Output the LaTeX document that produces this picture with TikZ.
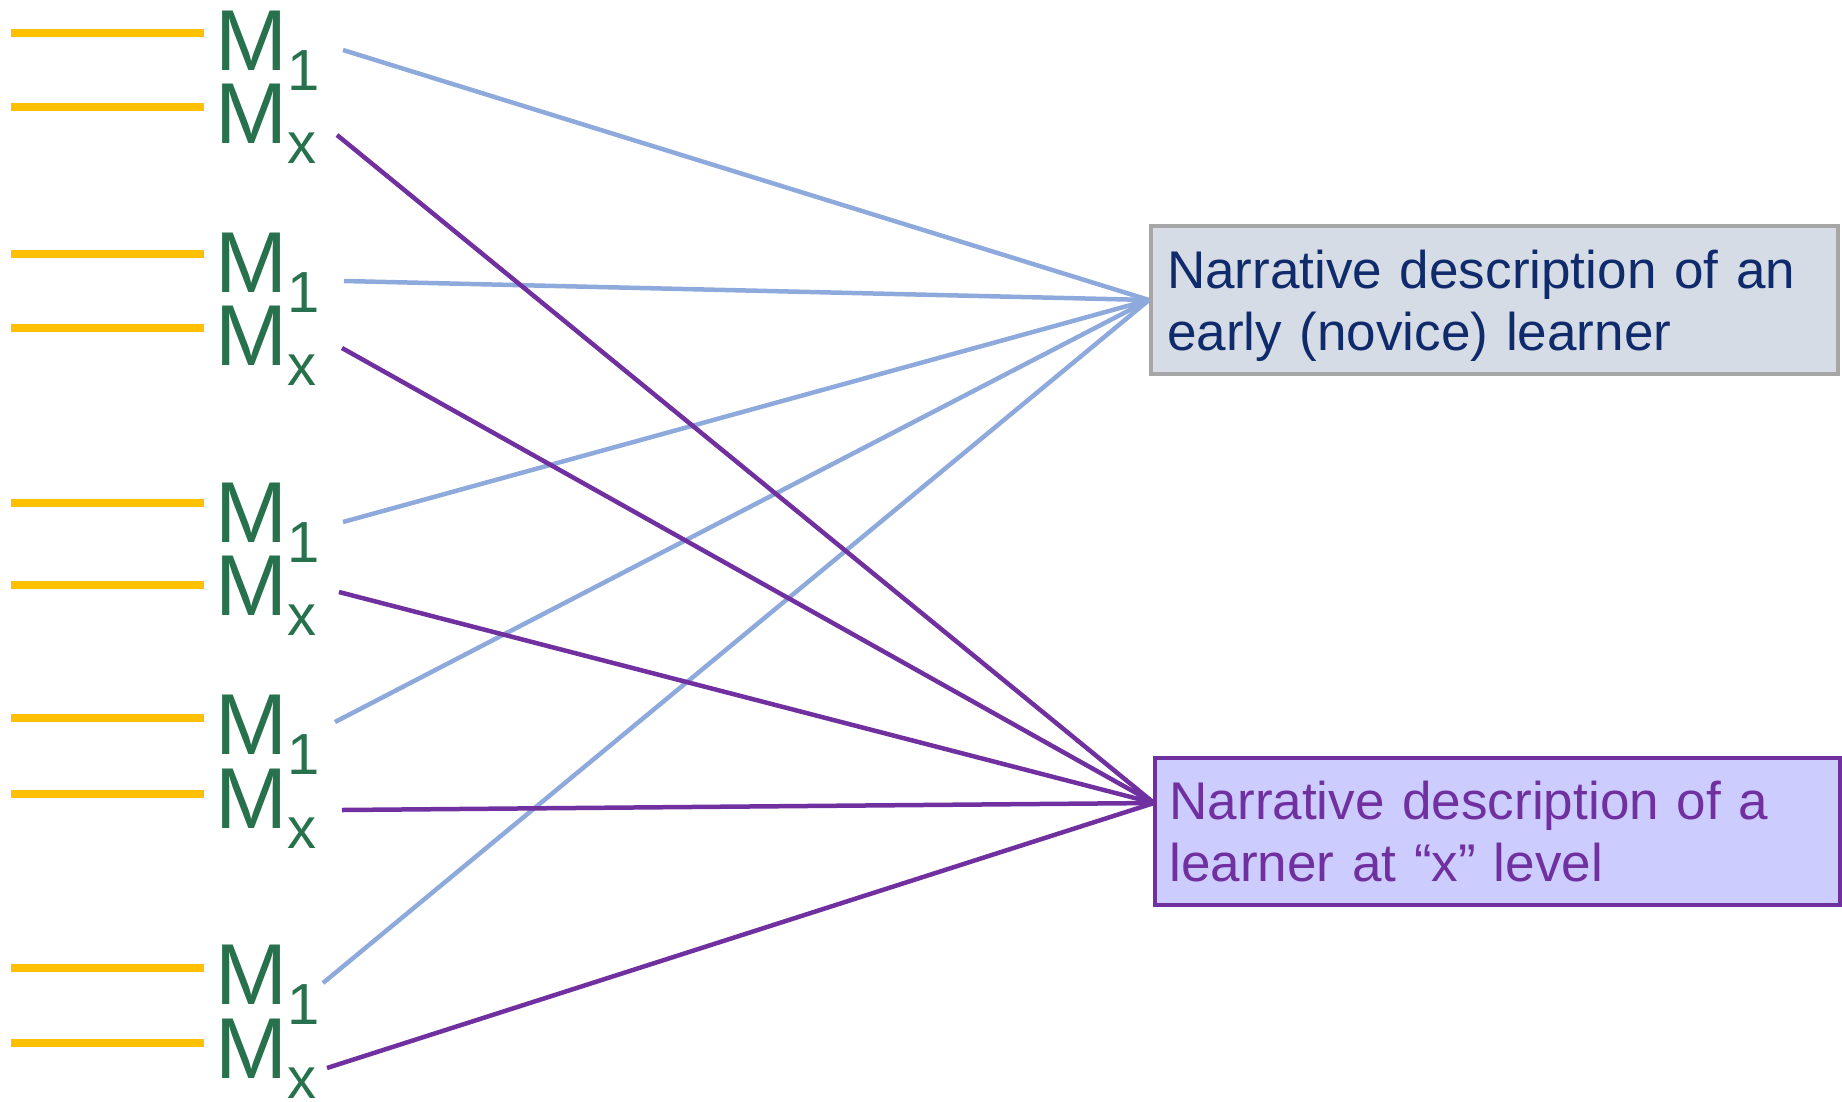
\documentclass[tikz,border=0pt]{standalone}
\usepackage{fontspec}
\setmainfont{Liberation Sans}
\usetikzlibrary{positioning, backgrounds}

\definecolor{mgreen}{HTML}{27714C}
\definecolor{barcol}{HTML}{FFC000}
\definecolor{novblue}{HTML}{8EA9DB}
\definecolor{lvlpurple}{HTML}{7030A0}
\definecolor{navytext}{HTML}{0F2B6B}
\definecolor{novfill}{HTML}{D6DCE5}
\definecolor{novedge}{HTML}{A6A6A6}
\definecolor{lvlfill}{HTML}{CCCCFF}

\begin{document}
\begin{tikzpicture}[x=0.1mm, y=-0.1mm]

\tikzset{
  bar/.style={draw=barcol, line width=0.8mm},
  mlabel/.style={
    anchor=base west, inner sep=0pt, text=mgreen,
    font=\fontsize{24.6}{24.6}\selectfont
  },
  desc/.style={
    rectangle, line width=0.4mm, align=left,
    text width=65.5mm, inner xsep=1.5mm,
    minimum height=14.8mm,
    font=\fontsize{15.1}{17.7}\selectfont
  },
  tonovice/.style={draw=novblue, line width=0.45mm},
  tolevel/.style={draw=lvlpurple, line width=0.45mm}
}

\useasboundingbox (0,0) rectangle (1842,1101);

% =========================================================
% Bars and M labels (five pairs)
% =========================================================
\draw[bar] (11,33) -- (204,33);
\draw[bar] (11,107) -- (204,107);
\node[mlabel] (g1one) at (215,70) {M\raisebox{-2mm}{\fontsize{16.5}{16.5}\selectfont 1}};
\node[mlabel] (g1x) at (215,143) {M\raisebox{-2mm}{\fontsize{16.5}{16.5}\selectfont x}};

\draw[bar] (11,254) -- (204,254);
\draw[bar] (11,328) -- (204,328);
\node[mlabel] (g2one) at (215,292) {M\raisebox{-2mm}{\fontsize{16.5}{16.5}\selectfont 1}};
\node[mlabel] (g2x) at (215,365) {M\raisebox{-2mm}{\fontsize{16.5}{16.5}\selectfont x}};

\draw[bar] (11,503) -- (204,503);
\draw[bar] (11,585) -- (204,585);
\node[mlabel] (g3one) at (215,542) {M\raisebox{-2mm}{\fontsize{16.5}{16.5}\selectfont 1}};
\node[mlabel] (g3x) at (215,615) {M\raisebox{-2mm}{\fontsize{16.5}{16.5}\selectfont x}};

\draw[bar] (11,718) -- (204,718);
\draw[bar] (11,794) -- (204,794);
\node[mlabel] (g4one) at (215,754) {M\raisebox{-2mm}{\fontsize{16.5}{16.5}\selectfont 1}};
\node[mlabel] (g4x) at (215,828) {M\raisebox{-2mm}{\fontsize{16.5}{16.5}\selectfont x}};

\draw[bar] (11,968) -- (204,968);
\draw[bar] (11,1043) -- (204,1043);
\node[mlabel] (g5one) at (215,1004) {M\raisebox{-2mm}{\fontsize{16.5}{16.5}\selectfont 1}};
\node[mlabel] (g5x) at (215,1078) {M\raisebox{-2mm}{\fontsize{16.5}{16.5}\selectfont x}};

% =========================================================
% Description boxes
% =========================================================
\node[desc, draw=novedge, fill=novfill, text=navytext,
      minimum width=68.7mm] (novice) at (1494.5,300)
  {Narrative description of an\\\smash{early (novice) learner}};
\node[desc, draw=lvlpurple, fill=lvlfill, text=lvlpurple,
      minimum width=68.2mm, minimum height=14.7mm] (xlevel) at (1497,831.5)
  {Narrative description of a\\learner at “x” level};

% line start points and the entry point of the lower box
\coordinate (g1oneout) at (343,50);
\coordinate (g2oneout) at (344,281);
\coordinate (g3oneout) at (343,522);
\coordinate (g4oneout) at (335,722);
\coordinate (g5oneout) at (323,983);
\coordinate (g1xout) at (337,135);
\coordinate (g2xout) at (342,348);
\coordinate (g3xout) at (339,592);
\coordinate (g4xout) at (342,810);
\coordinate (g5xout) at (327,1068);
\coordinate (xlevelin) at (1154,803);

% =========================================================
% Connectors
% =========================================================
\begin{scope}[on background layer]
  \draw[tonovice] (g1oneout) -- (novice.west);
  \draw[tonovice] (g2oneout) -- (novice.west);
  \draw[tonovice] (g3oneout) -- (novice.west);
  \draw[tonovice] (g4oneout) -- (novice.west);
  \draw[tonovice] (g5oneout) -- (novice.west);

  \draw[tolevel] (g1xout) -- (xlevelin);
  \draw[tolevel] (g2xout) -- (xlevelin);
  \draw[tolevel] (g3xout) -- (xlevelin);
  \draw[tolevel] (g4xout) -- (xlevelin);
  \draw[tolevel] (g5xout) -- (xlevelin);
\end{scope}

\end{tikzpicture}
\end{document}
